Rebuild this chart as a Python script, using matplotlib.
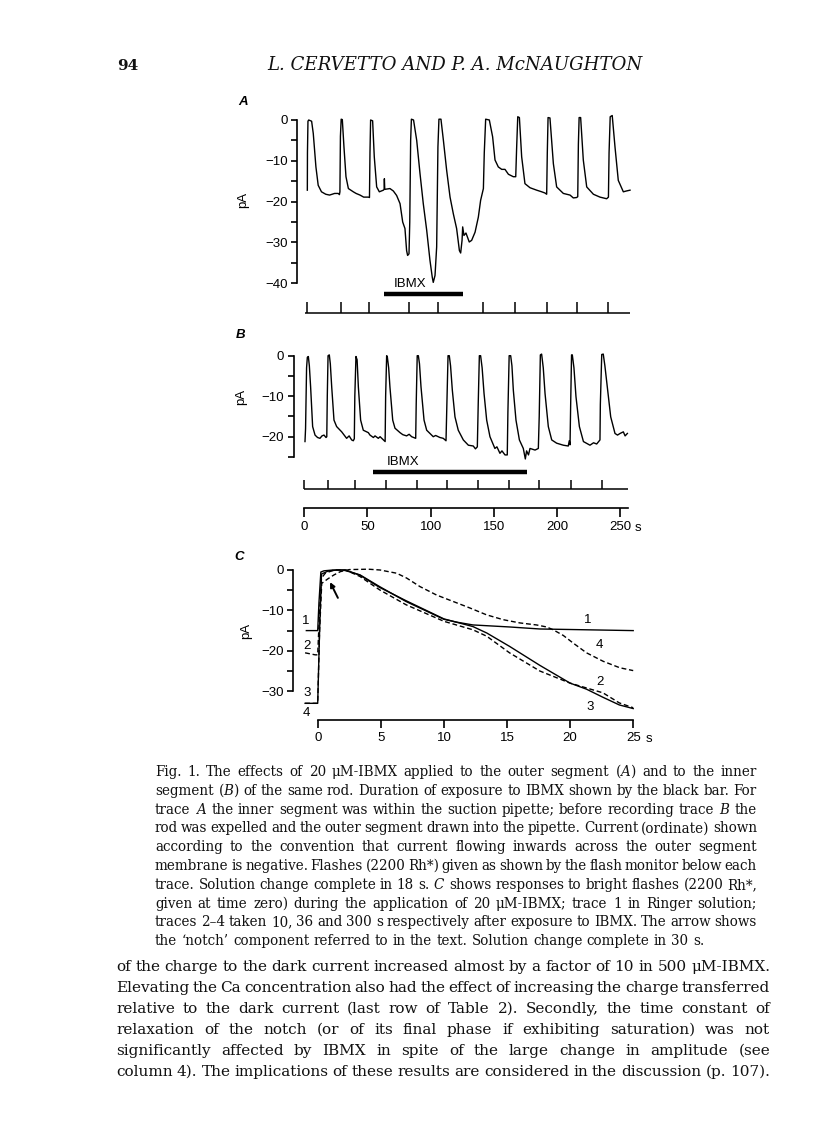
import matplotlib
matplotlib.use('Agg')
import matplotlib.pyplot as plt

plt.rcParams['font.family'] = ['Liberation Sans', 'DejaVu Sans']
plt.rcParams['mathtext.fontset'] = 'dejavuserif'

W, H = 816, 1140

# Panel A: IBMX applied to the outer segment (time s, current pA)
a_time = [2.4, 2.5, 2.9, 3.5, 5.8, 7.1, 9.2, 11.0, 13.6, 17.0, 20.0, 24.0, 26.9, 27.8,
          28.2, 28.6, 29.2, 30.1, 31.4, 33.0, 34.9, 38.8, 41.0, 44.1, 47.0, 50.7, 51.6,
          52.0, 52.5, 54.1, 55.4, 57.3, 59.4, 62.6, 63.2, 63.4, 63.7, 67.8, 70.5, 73.1,
          75.8, 77.9, 79.7, 81.0, 81.8, 82.9, 83.5, 84.2, 84.8, 86.5, 89.0, 91.6, 94.2,
          96.9, 99.5, 101.3, 102.1, 103.5, 104.8, 105.8, 106.6, 108.2, 110.1, 112.7,
          115.4, 118.0, 120.6, 122.8, 123.8, 124.9, 125.4, 126.4, 128.0, 130.6, 132.5,
          135.2, 137.8, 139.6, 141.8, 142.5, 143.6, 146.5, 149.1, 151.0, 153.6, 156.3,
          158.9, 161.6, 165.5, 167.4, 168.1, 169.0, 170.3, 172.1, 174.7, 178.7, 184.0,
          188.0, 190.6, 191.9, 192.4, 193.0, 194.5, 197.2, 199.8, 205.1, 210.4, 213.0,
          215.6, 216.5, 217.0, 217.6, 218.8, 220.9, 223.6, 228.9, 234.1, 239.4, 240.8,
          241.3, 242.2, 243.8, 246.0, 248.6, 252.6, 255.0, 257.9]
a_current = [-17.2, -8.0, -0.3, 0.0, -0.3, -3.3, -11.5, -16.0, -17.6, -18.2, -18.4, -18.0,
             -18.0, -18.3, -17.6, -4.0, 0.2, 0.1, -6.6, -13.9, -16.8, -17.6, -18.0, -18.4,
             -18.9, -18.9, -19.0, -8.0, 0.0, -0.2, -9.0, -16.4, -17.6, -17.2, -17.0, -14.4,
             -17.0, -16.8, -17.4, -18.5, -20.5, -25.0, -26.6, -32.0, -33.2, -32.8, -25.0,
             -5.0, 0.2, 0.0, -5.0, -13.1, -20.5, -27.0, -34.4, -38.5, -39.8, -38.1, -31.1,
             -6.6, 0.2, 0.2, -4.9, -12.3, -18.9, -23.0, -26.6, -32.0, -32.6, -29.5, -26.2,
             -28.3, -27.7, -29.9, -29.5, -27.5, -23.8, -19.7, -16.8, -8.0, 0.2, 0.0, -4.1,
             -9.8, -11.5, -12.1, -12.1, -13.3, -13.9, -13.9, -7.0, 0.8, 0.6, -9.0, -15.6,
             -16.6, -17.2, -17.6, -17.9, -18.2, -8.0, 0.6, 0.5, -10.7, -16.4, -18.0, -18.4,
             -19.1, -19.0, -18.8, -6.0, 0.6, 0.6, -9.8, -16.4, -18.2, -18.9, -19.3, -18.9,
             -8.0, 0.8, 1.1, -6.6, -14.8, -17.6, -17.4, -17.2]
a_flashes = [2.4, 28.8, 51.2, 83.1, 105.5, 141.2, 166.8, 191.9, 216.1, 240.7]
a_record = [0.5, 257.9]
a_ibmx = [63.1, 125.6]

# Panel B: IBMX applied to the inner segment
b_time = [0.55, 1.0, 1.8, 2.4, 3.2, 4.0, 5.0, 6.6, 8.5, 10.5, 12.4, 14.0, 15.6, 17.2, 17.8,
          18.2, 18.8, 19.8, 20.6, 21.7, 23.5, 25.6, 29.6, 33.5, 35.5, 37.5, 38.8, 39.6,
          40.0, 40.9, 41.8, 42.8, 44.6, 46.7, 50.7, 52.0, 54.7, 56.0, 58.6, 60.0, 62.6,
          64.0, 64.4, 65.2, 65.7, 66.8, 67.8, 70.0, 71.8, 75.8, 78.0, 81.0, 83.0, 85.0,
          88.2, 88.6, 89.4, 90.3, 91.2, 92.4, 94.8, 96.9, 102.1, 104.0, 107.4, 110.0,
          112.2, 112.9, 113.8, 114.8, 115.8, 117.2, 119.3, 121.9, 125.9, 128.0, 129.9,
          133.8, 135.5, 137.0, 137.7, 138.6, 139.6, 140.8, 142.3, 144.4, 147.0, 150.9,
          152.5, 154.9, 156.5, 158.9, 160.7, 161.2, 162.2, 163.4, 164.4, 165.5, 167.6,
          170.3, 173.4, 175.0, 176.0, 177.5, 178.7, 182.7, 185.3, 186.0, 186.9, 187.9,
          189.2, 190.6, 193.2, 195.9, 199.8, 205.1, 209.0, 209.8, 210.4, 210.9, 211.6,
          212.2, 213.5, 215.1, 217.8, 221.0, 226.2, 229.0, 231.5, 234.1, 234.4, 235.5,
          236.7, 238.0, 239.9, 242.6, 246.0, 248.0, 250.0, 252.6, 254.0, 255.8]
b_current = [-21.2, -18.0, -3.0, -0.4, -0.2, -2.5, -7.7, -17.5, -19.6, -20.2, -20.4, -19.8,
             -19.6, -20.2, -20.0, -10.0, 0.0, 0.2, -2.0, -7.7, -15.9, -17.5, -18.8, -20.4,
             -19.8, -20.8, -21.0, -20.5, -10.0, -0.2, -1.0, -7.7, -15.9, -18.4, -19.0,
             -19.6, -20.2, -19.8, -20.4, -20.0, -20.8, -21.2, -10.0, 0.0, -0.2, -3.0, -7.7,
             -15.9, -17.9, -19.0, -19.5, -19.8, -19.4, -20.0, -20.4, -12.0, 0.0, 0.0, -2.0,
             -7.7, -15.9, -18.4, -20.0, -19.7, -20.2, -20.4, -21.0, -12.0, 0.0, 0.0, -2.5,
             -8.5, -15.1, -18.4, -20.8, -21.5, -22.1, -22.3, -23.0, -22.5, -12.0, 0.0, 0.0,
             -3.0, -9.3, -15.9, -20.0, -22.9, -22.5, -24.1, -23.5, -24.5, -24.5, -14.0, 0.0,
             0.0, -2.5, -8.5, -15.9, -20.8, -22.9, -25.5, -23.5, -24.5, -22.9, -23.3, -22.9,
             -15.0, 0.2, 0.4, -3.0, -9.3, -17.5, -20.8, -21.6, -22.1, -22.3, -21.0, -22.0,
             -12.0, 0.2, 0.2, -3.0, -10.1, -17.5, -21.2, -22.1, -21.5, -21.8, -20.8, -12.0,
             0.3, 0.4, -2.5, -7.7, -15.1, -19.2, -19.6, -19.2, -18.8, -19.8, -19.2]
b_flashes = [0.0, 18.5, 40.1, 64.7, 88.9, 113.2, 137.8, 162.1, 186.1, 210.9, 235.5]
b_record = [0.0, 256.0]
b_ibmx = [54.4, 176.3]

# Panel C: responses to bright flashes (time after flash, s)
c1_time = [-0.9, 0.0, 0.1, 0.25, 0.5, 1.2, 2.0, 2.6, 3.35, 4.9, 7.0, 8.5, 10.0, 11.0, 12.3,
           15.2, 17.6, 21.3, 25.0]
c1_current = [-15.0, -15.0, -8.0, -0.5, -0.2, 0.0, 0.0, -0.5, -1.2, -4.1, -7.8, -10.0,
              -12.2, -12.9, -13.6, -14.1, -14.6, -14.8, -15.0]
c2_time = [-1.0, -0.2, 0.0, 0.15, 0.3, 0.6, 1.3, 2.2, 3.35, 4.9, 7.0, 10.0, 12.3, 13.4,
           15.2, 17.6, 20.0, 22.6, 23.9, 25.0]
c2_current = [-20.5, -21.0, -21.0, -10.0, -2.0, -0.8, 0.0, 0.0, -1.6, -4.9, -8.6, -12.7,
              -14.8, -16.4, -20.5, -25.0, -28.0, -30.4, -32.9, -34.1]
c3_time = [-1.0, 0.0, 0.15, 0.3, 0.8, 1.5, 2.2, 3.35, 4.9, 7.0, 10.0, 12.3, 13.4, 15.2,
           17.6, 20.0, 21.3, 22.6, 23.9, 25.0]
c3_current = [-33.0, -33.0, -15.0, -1.0, -0.3, 0.0, 0.0, -1.3, -4.3, -7.6, -12.1, -14.0,
              -15.6, -18.9, -23.6, -28.0, -29.5, -31.5, -33.4, -34.3]
c4_time = [-1.0, 0.0, 0.15, 0.32, 0.8, 1.3, 1.8, 2.5, 4.0, 4.94, 6.26, 7.05, 8.1, 9.42,
           10.74, 12.06, 13.38, 14.7, 16.02, 17.34, 18.14, 18.66, 19.46, 20.25, 21.3,
           22.62, 23.94, 25.0]
c4_current = [-33.0, -33.0, -15.0, -3.3, -2.2, -1.2, -0.4, 0.1, 0.2, 0.0, -0.8, -2.0, -4.1,
              -6.2, -7.8, -9.4, -11.1, -12.3, -13.1, -13.6, -14.1, -14.8, -16.2, -18.1,
              -20.5, -22.6, -24.2, -24.9]
c_names = ['1', '2', '3', '4']

a_yticks = [0, -10, -20, -30, -40]
b_yticks = [0, -10, -20]
c_yticks = [0, -10, -20, -30]
time_ticks = [0, 50, 100, 150, 200, 250]
c_xticks = [0, 5, 10, 15, 20, 25]

caption = [
    r"Fig. 1. The effects of 20 μM-IBMX applied to the outer segment ($\mathit{A}$) and to the inner",
    r"segment ($\mathit{B}$) of the same rod. Duration of exposure to IBMX shown by the black bar. For",
    r"trace $\mathit{A}$ the inner segment was within the suction pipette; before recording trace $\mathit{B}$ the",
    r"rod was expelled and the outer segment drawn into the pipette. Current (ordinate) shown",
    r"according to the convention that current flowing inwards across the outer segment",
    r"membrane is negative. Flashes (2200 Rh*) given as shown by the flash monitor below each",
    r"trace. Solution change complete in 18 s. $\mathit{C}$ shows responses to bright flashes (2200 Rh*,",
    r"given at time zero) during the application of 20 μM-IBMX; trace 1 in Ringer solution;",
    r"traces 2–4 taken 10, 36 and 300 s respectively after exposure to IBMX. The arrow shows",
    r"the ‘notch’ component referred to in the text. Solution change complete in 30 s.",
]
body = [
    "of the charge to the dark current increased almost by a factor of 10 in 500 μM-IBMX.",
    "Elevating the Ca concentration also had the effect of increasing the charge transferred",
    "relative to the dark current (last row of Table 2). Secondly, the time constant of",
    "relaxation of the notch (or of its final phase if exhibiting saturation) was not",
    "significantly affected by IBMX in spite of the large change in amplitude (see",
    "column 4). The implications of these results are considered in the discussion (p. 107).",
]

fig = plt.figure(figsize=(W / 100, H / 100), dpi=100)
fig.patch.set_facecolor('white')
page = fig.add_axes([0, 0, 1, 1])
page.set_xlim(0, W)
page.set_ylim(H, 0)
page.axis('off')
renderer = fig.canvas.get_renderer()

LW = 1.2
TICK_FS = 9.5


def px_axes(box, x0, xs, y0, ys):
    # axes whose data land on page pixels: px = x0 + xs*x, py = y0 - ys*y
    l, t, r, b = box
    ax = fig.add_axes([l / W, 1 - b / H, (r - l) / W, (b - t) / H])
    ax.set_xlim((l - x0) / xs, (r - x0) / xs)
    ax.set_ylim((y0 - b) / ys, (y0 - t) / ys)
    ax.patch.set_visible(False)
    for s in ax.spines.values():
        s.set_visible(False)
    ax.set_xticks([])
    ax.set_yticks([])
    return ax


def y_axis(ax, xpos, ticks, lo):
    sp = ax.spines['left']
    sp.set_visible(True)
    sp.set_position(('data', xpos))
    sp.set_linewidth(LW)
    sp.set_bounds(lo, 0)
    ax.set_yticks(ticks)
    ax.set_yticks(list(range(lo, 1, 5)), minor=True)
    ax.tick_params(axis='y', which='both', direction='out', length=4, width=LW,
                   pad=3, labelsize=TICK_FS)


def x_axis(ax, ypos, ticks, end, length):
    sp = ax.spines['bottom']
    sp.set_visible(True)
    sp.set_position(('data', ypos))
    sp.set_bounds(0, end)
    sp.set_linewidth(LW)
    ax.set_xticks(ticks)
    ax.tick_params(axis='x', direction='out', length=length, width=LW, pad=3,
                   labelsize=TICK_FS)


def flash_monitor(ax, flashes, record, y, h):
    ax.hlines(y, record[0], record[1], color='k', lw=1.1, clip_on=False)
    ax.vlines(flashes, y, y + h, color='k', lw=1.1, clip_on=False)


# ---- Panel A ----
ax_a = px_axes((230, 90, 650, 330), 304.3, 1.263, 120, 4.08)
ax_a.plot(a_time, a_current, color='k', lw=1.0, clip_on=False)
y_axis(ax_a, -5.54, a_yticks, -40)
ax_a.hlines(-42.7, a_ibmx[0], a_ibmx[1], color='k', lw=3.2)
ax_a.text(83.7, -40.3, 'IBMX', ha='center', va='center', fontsize=9.5)
flash_monitor(ax_a, a_flashes, a_record, -47.3, 2.6)

# ---- Panel B (with the time calibration) ----
ax_b = px_axes((230, 325, 650, 545), 304.3, 1.263, 355.7, 4.05)
ax_b.plot(b_time, b_current, color='k', lw=1.0, clip_on=False)
y_axis(ax_b, -8.16, b_yticks, -25)
ax_b.hlines(-28.7, b_ibmx[0], b_ibmx[1], color='k', lw=3.2)
ax_b.text(78.1, -26.2, 'IBMX', ha='center', va='center', fontsize=9.5)
flash_monitor(ax_b, b_flashes, b_record, -32.8, 2.1)
x_axis(ax_b, -37.6, time_ticks, b_record[1], 6.5)
page.text(635, 528, 's', ha='left', va='center', fontsize=TICK_FS)

# ---- Panel C ----
ax_c = px_axes((225, 545, 665, 750), 317.7, 12.62, 570, 4.04)
dash = (0, (3.5, 2.0))
ax_c.plot(c1_time, c1_current, color='k', lw=1.0, clip_on=False)
ax_c.plot(c2_time, c2_current, color='k', lw=1.0, ls=dash, clip_on=False)
ax_c.plot(c3_time, c3_current, color='k', lw=1.0, clip_on=False)
ax_c.plot(c4_time, c4_current, color='k', lw=1.0, ls=dash, clip_on=False)
y_axis(ax_c, -1.92, c_yticks, -30)
x_axis(ax_c, -37.1, c_xticks, 25, 5.5)
page.text(646, 739, 's', ha='left', va='center', fontsize=TICK_FS)
left_pos = [(-0.95, -12.6), (-0.87, -18.7), (-0.87, -30.5), (-0.87, -35.3)]
right_pos = [(21.4, -12.4), (22.4, -27.6), (21.6, -33.8), (22.3, -18.6)]
for name, (lx, ly), (rx, ry) in zip(c_names, left_pos, right_pos):
    ax_c.text(lx, ly, name, ha='center', va='center', fontsize=9.5, clip_on=False)
    ax_c.text(rx, ry, name, ha='center', va='center', fontsize=9.5, clip_on=False)
ax_c.annotate('', xy=(0.98, -3.0), xytext=(1.6, -6.9),
              arrowprops=dict(arrowstyle='-|>', lw=1.4, color='k', mutation_scale=7,
                              shrinkA=0, shrinkB=0))

# panel letters and unit labels
for letter, x, y in [('A', 243, 102), ('B', 241, 335), ('C', 239, 557)]:
    page.text(x, y, letter, ha='center', va='center', fontsize=9.5,
              fontstyle='italic', fontweight='bold')
for x, y in [(243, 200), (241, 397), (246, 631)]:
    page.text(x, y, 'pA', ha='center', va='center', rotation=90, fontsize=9.5)

# ---- page text ----
SERIF = 'DejaVu Serif'


def width_of(s, size, **kw):
    t = page.text(0, 0, s, fontsize=size, family=SERIF, **kw)
    w = t.get_window_extent(renderer).width
    t.remove()
    return w


def paragraph(lines, x0, x1, y0, step, ragged_last, min_gap=0.55):
    # pick the size so the tightest justified line keeps min_gap of a space
    full = lines[:-1] if ragged_last else lines
    sp10 = width_of('a a', 10) - width_of('aa', 10)
    need = []
    for l in full:
        words = l.split(' ')
        need.append(sum(width_of(w, 10) for w in words) + (len(words) - 1) * sp10 * min_gap)
    size = 10 * (x1 - x0) / max(need)
    space = sp10 * size / 10
    for i, line in enumerate(lines):
        words = line.split(' ')
        items = [page.text(0, y0 + i * step, w, fontsize=size, family=SERIF,
                           va='baseline', ha='left', color='#111111') for w in words]
        widths = [t.get_window_extent(renderer).width for t in items]
        if ragged_last and i == len(lines) - 1:
            gap = space
        else:
            gap = (x1 - x0 - sum(widths)) / (len(words) - 1)
        x = x0
        for t, w in zip(items, widths):
            t.set_x(x)
            x += w + gap


head = 'L. CERVETTO AND P. A. McNAUGHTON'
head_size = 10 * (643 - 267) / width_of(head, 10, fontstyle='italic')
page.text(267, 70, head, fontsize=head_size, family=SERIF, fontstyle='italic',
          va='baseline', ha='left', color='#111111')
page.text(117, 70, '94', fontsize=11, family=SERIF, fontweight='bold',
          va='baseline', ha='left', color='#111111')

paragraph(caption, 155, 757, 776, 18.8, True)
paragraph(body, 116, 770, 971, 21.0, False)

fig.savefig('out.png', dpi=100, facecolor='white')
